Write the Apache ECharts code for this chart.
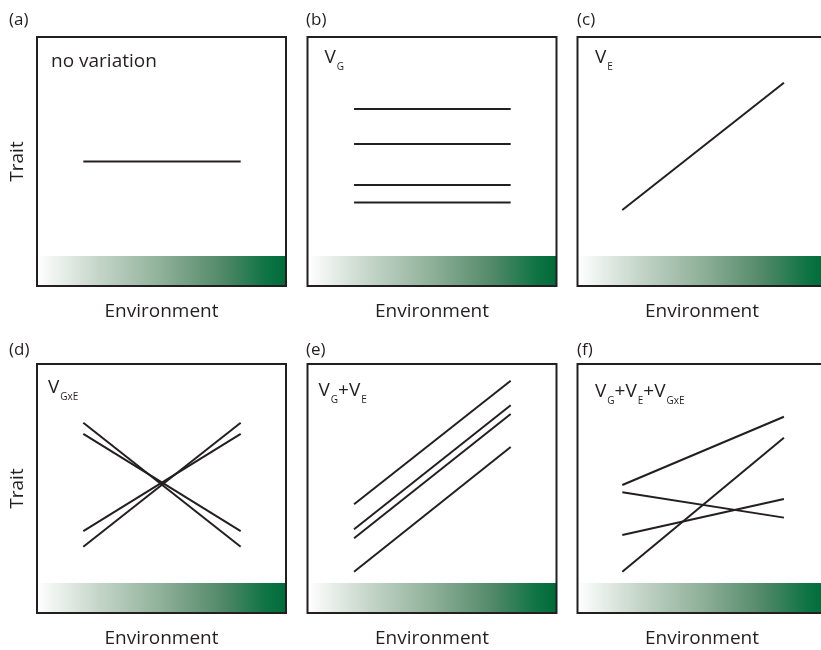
<!DOCTYPE html>
<html>
<head>
<meta charset="utf-8">
<title>Trait variation across an environmental gradient</title>
<script src="https://cdn.jsdelivr.net/npm/echarts@6/dist/echarts.min.js"></script>
<style>
  html, body { margin: 0; padding: 0; background: #ffffff; }
  #chart { width: 821px; height: 650px; }
</style>
</head>
<body>
<div id="chart"></div>
<script>
// ---- data: each panel has an environment span and one [start, end] trait pair per genotype ----
const panelTags = ['(a)', '(b)', '(c)', '(d)', '(e)', '(f)'];

const envA = [18.6, 81.8];
const traitA = [[50.0, 50.0]];

const envB = [18.7, 81.6];
const traitB = [[71.1, 71.1], [57.0, 57.0], [40.6, 40.6], [33.5, 33.5]];

const envC = [18.0, 82.9];
const traitC = [[30.5, 81.6]];

const envD = [18.6, 81.8];
const traitD = [[76.4, 26.6], [71.9, 32.9], [32.9, 71.9], [26.6, 76.4]];

const envE = [18.7, 81.6];
const traitE = [[43.7, 93.3], [33.6, 83.4], [30.0, 79.9], [16.6, 66.7]];

const envF = [18.0, 82.9];
const traitF = [[51.4, 78.8], [48.5, 38.3], [31.3, 45.8], [16.6, 70.4]];

// variance component written inside each panel: plain text or [symbol, subscript] terms
const noteA = 'no variation';
const noteB = [['V', 'G']];
const noteC = [['V', 'E']];
const noteD = [['V', 'GxE']];
const noteE = [['V', 'G'], ['V', 'E']];
const noteF = [['V', 'G'], ['V', 'E'], ['V', 'GxE']];

// environmental gradient strip along the bottom of every panel (trait units)
const gradientStrip = [0, 12];

const xAxisTitle = 'Environment';
const yAxisTitle = 'Trait';

// ---- layout ----
const FONT = '"Open Sans", "Noto Sans", sans-serif';
const INK = '#231f20';
const colLeft = [37, 307.5, 577.5];
const rowTop = [37, 364];
const BOX = 249;
const tagX = [9, 306, 577];
const tagY = [20.5, 350];
const noteDx = [14, 17, 17.5, 11, 11, 17.5];
const noteDy = [25, 21, 21, 24, 27, 28];

const envs = [envA, envB, envC, envD, envE, envF];
const traits = [traitA, traitB, traitC, traitD, traitE, traitF];
const notes = [noteA, noteB, noteC, noteD, noteE, noteF];

const chart = echarts.init(document.getElementById('chart'), null, { renderer: 'canvas' });

const grids = [], xAxes = [], yAxes = [], series = [], graphics = [];

const stripGradient = {
  type: 'linear', x: 0, y: 0, x2: 1, y2: 0,
  colorStops: [
    { offset: 0.00, color: '#ffffff' },
    { offset: 0.25, color: '#c4d5c8' },
    { offset: 0.50, color: '#8fb099' },
    { offset: 0.75, color: '#508867' },
    { offset: 0.92, color: '#0e7444' },
    { offset: 1.00, color: '#006b38' }
  ]
};

function richNote(parts) {
  return parts.map(function (p) { return '{v|' + p[0] + '}{s|' + p[1] + '}'; }).join('{v|+}');
}

envs.forEach(function (env, i) {
  const col = i % 3, row = Math.floor(i / 3);
  const left = colLeft[col], top = rowTop[row];

  grids.push({
    left: left, top: top, width: BOX, height: BOX,
    outerBoundsMode: 'none', containLabel: false,
    show: true, backgroundColor: 'transparent',
    borderColor: INK, borderWidth: 2, z: 10
  });
  xAxes.push({ gridIndex: i, type: 'value', min: 0, max: 100, show: false });
  yAxes.push({ gridIndex: i, type: 'value', min: 0, max: 100, show: false });

  traits[i].forEach(function (pair, k) {
    const s = {
      type: 'line',
      xAxisIndex: i, yAxisIndex: i,
      data: [[env[0], pair[0]], [env[1], pair[1]]],
      symbol: 'none',
      silent: true,
      lineStyle: { color: INK, width: 2 },
      emphasis: { disabled: true }
    };
    if (k === 0) {
      s.markArea = {
        silent: true,
        itemStyle: { color: stripGradient, borderWidth: 0 },
        emphasis: { disabled: true },
        data: [[{ xAxis: 0, yAxis: gradientStrip[0] }, { xAxis: 100, yAxis: gradientStrip[1] }]]
      };
    }
    series.push(s);
  });

  // panel tag
  graphics.push({
    type: 'text', x: tagX[col], y: tagY[row],
    style: { text: panelTags[i], font: '17px ' + FONT, fill: INK, align: 'left', verticalAlign: 'middle' }
  });

  // variance label inside the panel
  const note = notes[i];
  if (typeof note === 'string') {
    graphics.push({
      type: 'text', x: left + noteDx[i], y: top + noteDy[i],
      style: { text: note, font: '19px ' + FONT, fill: INK, align: 'left', verticalAlign: 'middle' }
    });
  } else {
    graphics.push({
      type: 'text', x: left + noteDx[i], y: top + noteDy[i],
      style: {
        text: richNote(note), fill: INK, align: 'left', verticalAlign: 'middle',
        rich: {
          v: { fontSize: 19, fontFamily: FONT, fill: INK, lineHeight: 30, verticalAlign: 'middle' },
          s: { fontSize: 10, fontFamily: FONT, fill: INK, lineHeight: 10, padding: [18, 0, 0, 1], verticalAlign: 'middle' }
        }
      }
    });
  }

  // x axis title under every panel
  graphics.push({
    type: 'text', x: left + BOX / 2, y: top + BOX + 26,
    style: { text: xAxisTitle, font: '19px ' + FONT, fill: INK, align: 'center', verticalAlign: 'middle' }
  });

  // y axis title on the left column only
  if (col === 0) {
    graphics.push({
      type: 'text', x: 18, y: top + BOX / 2, rotation: Math.PI / 2,
      style: { text: yAxisTitle, font: '19px ' + FONT, fill: INK, align: 'center', verticalAlign: 'middle' }
    });
  }
});

chart.setOption({
  animation: false,
  backgroundColor: '#ffffff',
  grid: grids,
  xAxis: xAxes,
  yAxis: yAxes,
  series: series,
  graphic: graphics
});
</script>
</body>
</html>
